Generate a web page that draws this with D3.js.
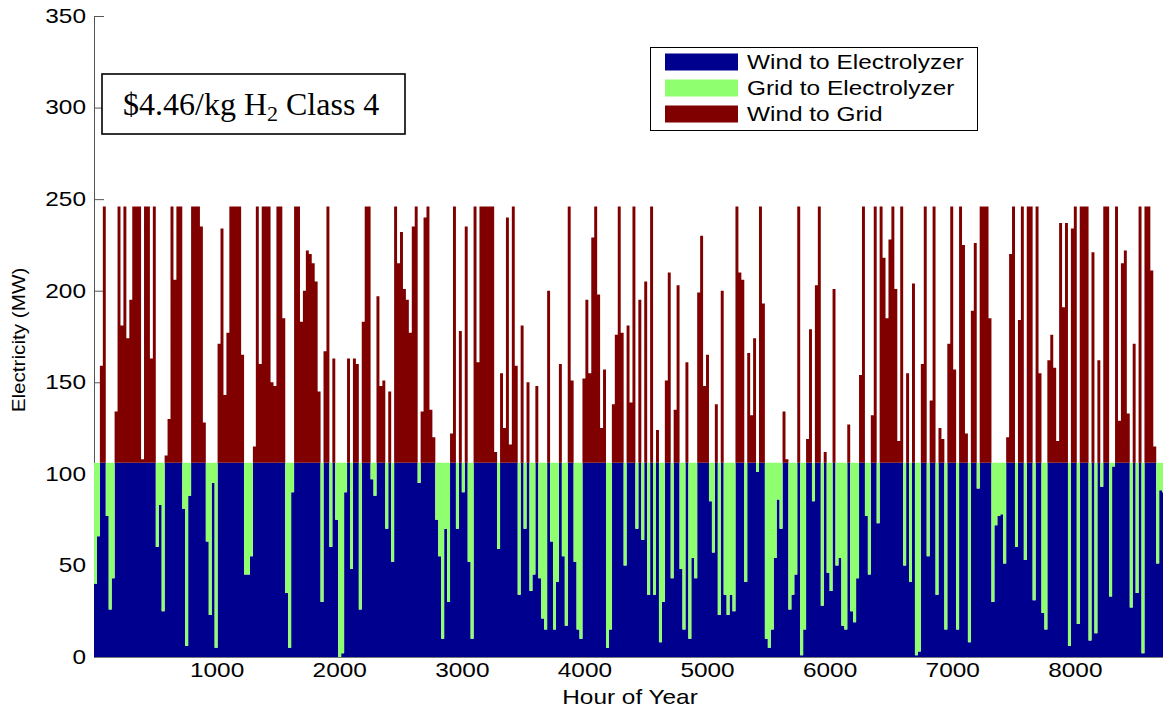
<!DOCTYPE html>
<html>
<head>
<meta charset="utf-8">
<script src="https://cdn.jsdelivr.net/npm/d3@7"></script>
<style>
  body { margin: 0; background: #fff; }
</style>
</head>
<body>
<div id="chart"></div>
<script>
var width = 1163;
var height = 709;

// electrolyzer size (MW) and wind farm output
var electrolyzerMW = 106;
var hoursPerStep = 24;
var windDaily = [
  40, 66, 159, 246, 77, 26, 43, 134, 246, 181, 246, 174, 195, 246, 246, 246, 108, 246, 246, 163,
  246, 60, 83, 25, 110, 130, 246, 206, 246, 246, 81, 6, 88, 246, 246, 246, 235, 128, 63, 23,
  95, 5, 171, 234, 143, 177, 246, 246, 246, 246, 165, 45, 45, 55, 115, 246, 160, 246, 246, 246,
  150, 148, 246, 246, 185, 35, 5, 90, 246, 246, 183, 200, 222, 220, 215, 205, 145, 30, 167, 246,
  60, 163, 75, 0, 2, 90, 163, 48, 163, 160, 26, 183, 246, 246, 97, 88, 197, 148, 151, 70,
  145, 52, 246, 215, 232, 201, 195, 177, 235, 246, 95, 134, 240, 246, 135, 120, 75, 55, 10, 70,
  30, 122, 246, 70, 178, 90, 235, 52, 10, 246, 161, 246, 246, 246, 246, 246, 112, 59, 155, 125,
  240, 116, 246, 159, 34, 181, 70, 150, 36, 45, 148, 43, 21, 15, 200, 63, 15, 41, 160, 55,
  17, 246, 151, 52, 15, 10, 152, 195, 155, 229, 246, 198, 125, 157, 5, 15, 138, 176, 246, 177,
  50, 181, 139, 246, 70, 195, 64, 205, 34, 246, 34, 124, 8, 30, 151, 210, 43, 135, 203, 48,
  15, 161, 10, 54, 43, 199, 230, 148, 165, 85, 57, 138, 23, 200, 34, 23, 34, 25, 246, 210,
  206, 41, 166, 132, 174, 101, 246, 193, 10, 5, 15, 54, 86, 70, 134, 108, 26, 34, 45, 246,
  1, 15, 119, 179, 85, 203, 246, 28, 112, 46, 36, 201, 50, 54, 17, 15, 127, 25, 19, 43,
  154, 246, 77, 45, 132, 246, 73, 246, 218, 185, 228, 246, 201, 118, 246, 50, 155, 41, 204, 1,
  3, 160, 246, 55, 140, 246, 34, 125, 119, 15, 171, 246, 157, 15, 246, 225, 122, 8, 189, 226,
  92, 246, 246, 246, 185, 30, 72, 77, 78, 51, 120, 220, 246, 60, 184, 246, 53, 246, 246, 31,
  246, 155, 24, 15, 162, 176, 158, 118, 237, 191, 237, 6, 234, 246, 18, 246, 246, 246, 9, 221,
  13, 162, 93, 246, 246, 33, 104, 246, 129, 215, 222, 133, 27, 171, 35, 246, 2, 246, 246, 211,
  115, 51, 91, 90, 80
];

var seriesNames = ['Wind to Electrolyzer', 'Grid to Electrolyzer', 'Wind to Grid'];
var yTicks = [0, 50, 100, 150, 200, 250, 300, 350];
var xTicks = [1000, 2000, 3000, 4000, 5000, 6000, 7000, 8000];

var stretch = 1.22; // the sans text in the figure is drawn wide

// split each day's wind between electrolyzer and grid
var rows = windDaily.map(function(w, i) {
  var toElec = Math.min(w, electrolyzerMW);
  return {
    hour: i * hoursPerStep,
    'Wind to Electrolyzer': toElec,
    'Grid to Electrolyzer': electrolyzerMW - toElec,
    'Wind to Grid': Math.max(w - electrolyzerMW, 0)
  };
});
var last = Object.assign({}, rows[rows.length - 1], {hour: windDaily.length * hoursPerStep});
rows.push(last);

var x = d3.scaleLinear().domain([0, 8760]).range([94, 1168]);
var y = d3.scaleLinear().domain([0, 350]).range([657, 16]);
var color = d3.scaleOrdinal().domain(seriesNames).range(['#00008f', '#8fff70', '#800000']);

var stack = d3.stack().keys(seriesNames);
var layers = stack(rows);

var area = d3.area()
  .curve(d3.curveStepAfter)
  .x(d => x(d.data.hour))
  .y0(d => y(d[0]))
  .y1(d => y(d[1]));

var svg = d3.select('#chart').append('svg')
  .attr('width', width)
  .attr('height', height)
  .style('font-family', '"Liberation Sans", Arial, sans-serif');

svg.append('rect').attr('width', width).attr('height', height).attr('fill', '#fff');

// y axis sits under the data, like matlab
var yAxis = svg.append('g')
  .attr('transform', 'translate(94,0)')
  .call(d3.axisLeft(y).tickValues(yTicks).tickSizeInner(-10).tickSizeOuter(0).tickPadding(8));
yAxis.select('.domain').attr('stroke', '#555');
yAxis.selectAll('.tick line').attr('stroke', '#555');
yAxis.selectAll('.tick text')
  .attr('x', -8 / stretch)
  .attr('transform', `scale(${stretch},1)`)
  .style('font-size', '20px')
  .attr('fill', '#000');

svg.append('g')
  .selectAll('path')
  .data(layers)
  .enter().append('path')
  .attr('fill', d => color(d.key))
  .attr('d', area);

var xAxis = svg.append('g')
  .attr('transform', 'translate(0,657)')
  .call(d3.axisBottom(x).tickValues(xTicks).tickFormat(d3.format('d')).tickSize(0).tickPadding(6));
xAxis.select('.domain').attr('stroke', '#777');
xAxis.selectAll('.tick text')
  .attr('transform', `scale(${stretch},1)`)
  .style('font-size', '20px')
  .attr('fill', '#000');

svg.append('text')
  .attr('transform', `translate(630,704) scale(${stretch},1)`)
  .attr('text-anchor', 'middle')
  .style('font-size', '20px')
  .text('Hour of Year');

svg.append('text')
  .attr('transform', 'translate(25,340) rotate(-90) scale(1.15,1)')
  .attr('text-anchor', 'middle')
  .style('font-size', '18px')
  .text('Electricity (MW)');

// legend
var legend = svg.append('g');
legend.append('rect')
  .attr('x', 650.5).attr('y', 47.5)
  .attr('width', 327).attr('height', 83)
  .attr('fill', '#fff').attr('stroke', '#000');
var item = legend.selectAll('.item')
  .data(seriesNames)
  .enter().append('g')
  .attr('transform', (d, i) => `translate(0,${62 + i * 26})`);
item.append('rect')
  .attr('x', 665).attr('y', -8.5)
  .attr('width', 73).attr('height', 17)
  .attr('fill', d => color(d));
item.append('text')
  .attr('transform', `translate(747,7) scale(${stretch},1)`)
  .style('font-size', '20px')
  .text(d => d);

// cost label box
svg.append('rect')
  .attr('x', 102).attr('y', 74)
  .attr('width', 303).attr('height', 60)
  .attr('fill', '#fff').attr('stroke', '#000').attr('stroke-width', 1.6);
var label = svg.append('text')
  .attr('x', 123).attr('y', 115)
  .style('font-family', '"Liberation Serif", "Times New Roman", serif')
  .style('font-size', '32px');
label.append('tspan').text('$4.46/kg H');
label.append('tspan').attr('dy', 6).style('font-size', '22px').text('2');
label.append('tspan').attr('dy', -6).text(' Class 4');
</script>
</body>
</html>
